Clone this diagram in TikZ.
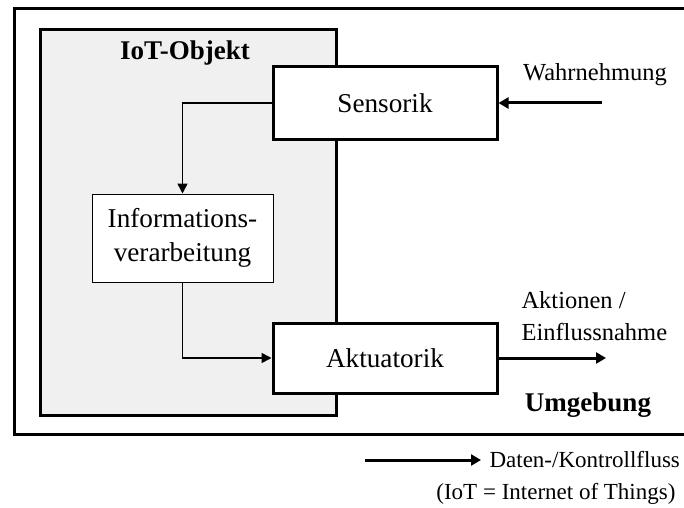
\documentclass[tikz,border=0pt]{standalone}
\usepackage{fontspec}
\setmainfont{Liberation Serif}
\usetikzlibrary{arrows.meta}
\begin{document}
\begin{tikzpicture}[x=1pt,y=1pt,
  boxlabel/.style={font=\fontsize{27.2}{34}\selectfont},
  sidelabel/.style={font=\fontsize{24.5}{32}\selectfont},
  legendlabel/.style={font=\fontsize{23}{30}\selectfont},
  titlelabel/.style={font=\fontsize{27}{34}\selectfont\bfseries},
  mainbox/.style={draw, line width=3pt, fill=white, inner sep=0pt, boxlabel},
  infobox/.style={draw, line width=1pt, fill=white, inner sep=0pt, align=center, boxlabel},
  flow/.style={line width=1.6pt, -{Triangle[length=10pt,width=10pt]}},
  bigflow/.style={line width=3pt, -{Triangle[length=10pt,width=11pt]}}
]
\useasboundingbox (0,0) rectangle (684,507);

% environment frame (open to the right)
\draw[line width=3pt] (700,498) -- (14,498) -- (14,73) -- (700,73);

% IoT object
\draw[line width=3pt, fill=black!6] (40,477) rectangle (336,92);
\node[titlelabel] (iot) at (185,454) {IoT-Objekt};

% components
\node[mainbox, minimum width=224pt, minimum height=72pt] (sens) at (385,404) {Sensorik};
\node[infobox, minimum width=181pt, minimum height=88pt] (info) at (182.5,269) {Informations-\\verarbeitung};
\node[mainbox, minimum width=224pt, minimum height=70pt] (akt) at (385,149) {Aktuatorik};

% internal flows
\draw[flow] (sens.west) -| (info.north);
\draw[flow] (info.south) |- (akt.west);

% environment interaction
\node[sidelabel] (wahr) at (595,432) {Wahrnehmung};
\coordinate (wahrin) at (602,404);
\draw[bigflow] (wahrin) -- (sens.east);

\node[sidelabel, anchor=west, align=left] (aktionen) at (518,191) {Aktionen /\\Einflussnahme};
\coordinate (aktout) at (606,149);
\draw[bigflow] (akt.east) -- (aktout);

\node[titlelabel] (umg) at (588,102) {Umgebung};

% legend
\coordinate (legA) at (365,47);
\coordinate (legB) at (481,47);
\draw[bigflow] (legA) -- (legB);
\node[legendlabel, anchor=west] (legtext) at (486,47) {Daten-/Kontrollfluss};
\node[legendlabel, anchor=east] (abbr) at (679,13) {(IoT = Internet of Things)};
\end{tikzpicture}
\end{document}
